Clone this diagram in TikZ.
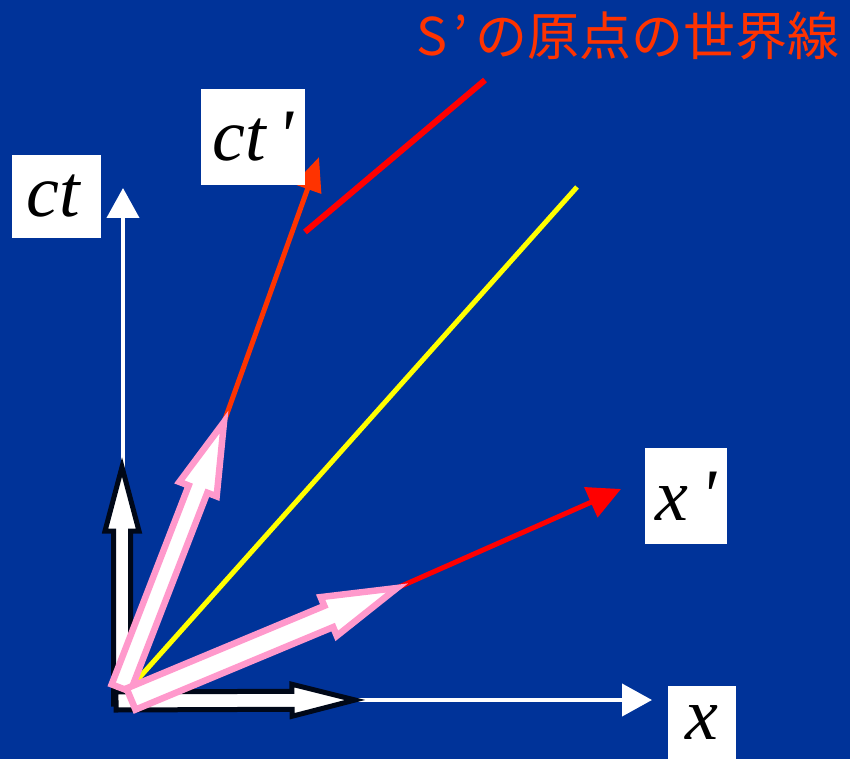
\documentclass[tikz,border=0pt]{standalone}
\usepackage{fontspec}
\setmainfont{Liberation Serif}
\newfontfamily\lblfont{Liberation Serif}
\newfontfamily\jpfont{Noto Sans CJK JP}
\usetikzlibrary{calc,arrows.meta}
\definecolor{bg}{RGB}{0,51,153}
\definecolor{orng}{RGB}{255,51,0}
\definecolor{rd}{RGB}{255,0,0}
\definecolor{pnk}{RGB}{255,153,204}
\definecolor{blk}{RGB}{0,8,24}
\definecolor{ylw}{RGB}{255,255,0}
\newcommand\blockarr[7]{%
  \coordinate (#7-t) at #2;
  \coordinate (#7-p) at #3;
  \coordinate (#7-h) at ($(#7-p)!#6!(#7-t)$);
  \draw[#1] ($(#7-t)!#4!90:(#7-p)$) -- ($(#7-h)!#4!90:(#7-p)$) --
    ($(#7-h)!#5!90:(#7-p)$) -- (#7-p) -- ($(#7-h)!#5!-90:(#7-p)$) --
    ($(#7-h)!#4!-90:(#7-p)$) -- ($(#7-t)!#4!-90:(#7-p)$) -- cycle;
}
\tikzset{
  lbl/.style={fill=white, inner sep=0pt, text=black,
    font=\lblfont\fontsize{74}{74}\selectfont\itshape},
  axis/.style={white, line width=4pt, -{Triangle[length=30pt,width=32pt]}},
  blkarr/.style={draw=blk, fill=white, line width=5pt, line join=miter},
  pnkarr/.style={draw=pnk, fill=white, line width=6.5pt, line join=miter},
}
\begin{document}
\begin{tikzpicture}[x=1pt,y=-1pt]
\fill[bg] (0,0) rectangle (850,759);
\useasboundingbox (0,0) rectangle (850,759);
% axes
\coordinate (O) at (123,700);
\coordinate (ctend) at (123,188);
\coordinate (xend) at (652,700);
\draw[axis] (O) -- (ctend);
\draw[axis] (O) -- (xend);
% black block arrows
\blockarr{blkarr}{(122,704)}{(122,467)}{8.5pt}{17pt}{64pt}{bv}
\blockarr{blkarr}{(116,701)}{(355,700)}{9pt}{16pt}{63pt}{bh}
% yellow light line
\coordinate (y0) at (130,688);
\coordinate (y1) at (577,187);
\draw[ylw, line width=5pt] (y0) -- (y1);
% coloured lines continuing the pink arrows
\coordinate (pc-p) at (224,422);
\coordinate (px-p) at (397,588);
\coordinate (ctpend) at (319,157);
\coordinate (xpend) at (621,489);
\draw[orng, line width=5pt, -{Triangle[length=34pt,width=28pt]}] (pc-p) -- (ctpend);
\draw[rd, line width=5pt, -{Triangle[length=33pt,width=32pt]}] (px-p) -- (xpend);
% world line of S' origin
\coordinate (w0) at (305,232);
\coordinate (w1) at (485,80);
\draw[rd, line width=6pt] (w0) -- (w1);
% pink block arrows
\blockarr{pnkarr}{(121,688)}{(224,422)}{10pt}{20pt}{72pt}{pc}
\blockarr{pnkarr}{(131,699)}{(397,588)}{11.5pt}{21pt}{74pt}{px}
% labels
\node[lbl, minimum width=89pt, minimum height=83pt] (lct) at (56.5,196.5) {\hspace{-6pt}ct};
\node[lbl, minimum width=104pt, minimum height=96pt] (lctp) at (253,137) {ct\,\char"27};
\node[lbl, minimum width=82pt, minimum height=96pt] (lxp) at (686,496) {x\,\char"27};
\node[lbl, minimum width=68pt, minimum height=74pt] (lx) at (702,723) {x};
\node[anchor=west, inner sep=0pt, text=orng, font=\jpfont\fontsize{52}{52}\selectfont] (title) at (416,36) {S\hspace{6pt}’\hspace{8pt}の原点の世界線};
\end{tikzpicture}
\end{document}
